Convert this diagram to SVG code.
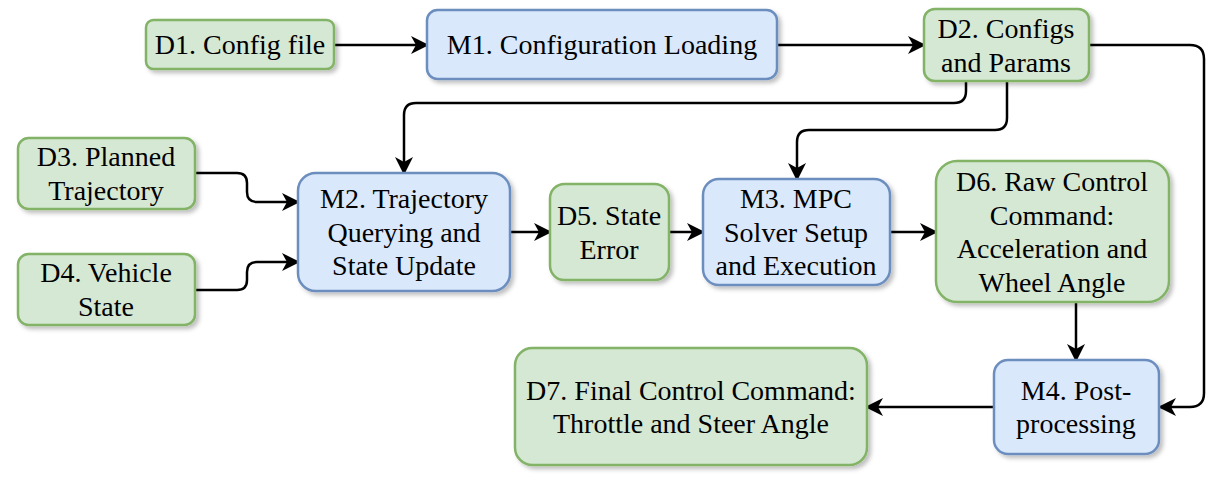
<svg xmlns="http://www.w3.org/2000/svg" width="1232" height="485" viewBox="0 0 1232 485">
<style>
.d{fill:#d5e8d4;stroke:#82b366;stroke-width:2.5;filter:url(#sh)}
.m{fill:#dae8fc;stroke:#6c8ebf;stroke-width:2.5;filter:url(#sh)}
text{font-family:'Liberation Serif','DejaVu Serif Condensed','DejaVu Serif','Noto Serif',serif;font-size:28px;fill:#000;text-anchor:middle}
.c path{fill:none;stroke:#000;stroke-width:2.5;marker-end:url(#ar)}
</style>
<defs>
<filter id="sh" x="-10%" y="-10%" width="130%" height="130%">
<feDropShadow dx="3" dy="3" stdDeviation="2" flood-color="#000" flood-opacity="0.25"/>
</filter>
<marker id="ar" viewBox="0 0 18 18" refX="16" refY="9" markerWidth="18" markerHeight="18" markerUnits="userSpaceOnUse" orient="auto">
<path d="M0,0 L18,9 L0,18 L5,9 Z" fill="#000"/>
</marker>
</defs>
<g class="c" id="connectors">
<path d="M334,45 H427"/>
<path d="M777,45 H924"/>
<path d="M1089,45 H1190 Q1204,45 1204,59 V393 Q1204,407 1190,407 H1160"/>
<path d="M966,81 V91 Q966,103 954,103 H416 Q404,103 404,115 V173"/>
<path d="M1007,81 V118 Q1007,130 995,130 H809 Q797,130 797,142 V179"/>
<path d="M195,173 H237 Q247,173 247,183 V192 Q247,202 257,202 H298"/>
<path d="M195,290 H237 Q247,290 247,280 V272 Q247,262 257,262 H298"/>
<path d="M510,232 H550"/>
<path d="M669,232 H703"/>
<path d="M890,232 H936"/>
<path d="M1076,302 V360"/>
<path d="M994,407 H867"/>
</g>
<g id="D1"><rect class="d" x="146" y="20" width="188" height="49" rx="7.4"/><text x="240" y="54">D1. Config file</text></g>
<g id="M1"><rect class="m" x="427" y="10" width="350" height="69" rx="10.4"/><text x="602" y="54">M1. Configuration Loading</text></g>
<g id="D2"><rect class="d" x="924" y="9" width="165" height="72" rx="10.8"/><text x="1006" y="38">D2. Configs</text><text x="1006" y="72">and Params</text></g>
<g id="D3"><rect class="d" x="18" y="138" width="177" height="71" rx="10.6"/><text x="106" y="166">D3. Planned</text><text x="106" y="200">Trajectory</text></g>
<g id="D4"><rect class="d" x="18" y="254" width="177" height="71" rx="10.6"/><text x="106" y="282">D4. Vehicle</text><text x="106" y="316">State</text></g>
<g id="M2"><rect class="m" x="298" y="173" width="212" height="118" rx="17.7"/><text x="404" y="208">M2. Trajectory</text><text x="404" y="242">Querying and</text><text x="404" y="275">State Update</text></g>
<g id="D5"><rect class="d" x="550" y="184" width="119" height="96" rx="14.4"/><text x="609" y="225">D5. State</text><text x="609" y="259">Error</text></g>
<g id="M3"><rect class="m" x="703" y="179" width="187" height="106" rx="15.9"/><text x="796" y="208">M3. MPC</text><text x="796" y="242">Solver Setup</text><text x="796" y="275">and Execution</text></g>
<g id="D6"><rect class="d" x="936" y="161" width="233" height="141" rx="21"/><text x="1052" y="191">D6. Raw Control</text><text x="1052" y="225">Command:</text><text x="1052" y="258">Acceleration and</text><text x="1052" y="292">Wheel Angle</text></g>
<g id="D7"><rect class="d" x="515" y="348" width="352" height="117" rx="17.5"/><text x="691" y="400">D7. Final Control Command:</text><text x="691" y="433">Throttle and Steer Angle</text></g>
<g id="M4"><rect class="m" x="994" y="360" width="165" height="94" rx="14"/><text x="1076" y="400">M4. Post-</text><text x="1076" y="433">processing</text></g>
</svg>
